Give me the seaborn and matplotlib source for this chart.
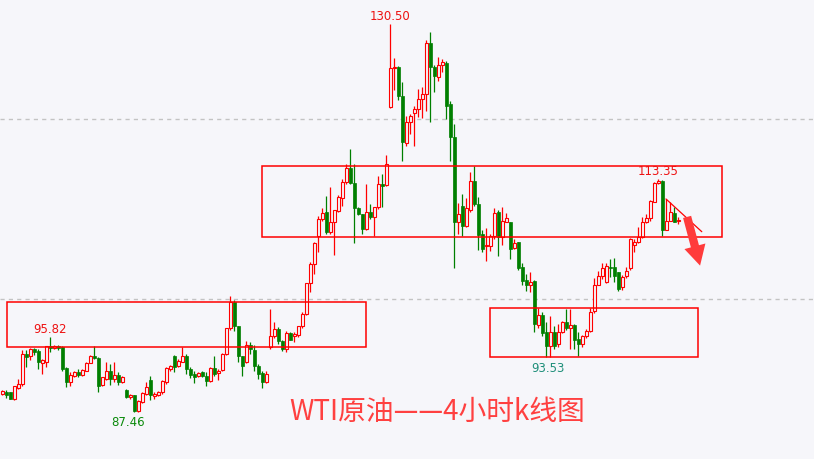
import matplotlib
matplotlib.use("Agg")
import matplotlib.pyplot as plt
import seaborn as sns
import numpy as np

# 4h candles (Chinese colours: red = up, green = down)
opens = [89.5, 89.7, 89.65, 88.9, 90.1, 90.55, 93.9, 93.65, 94.45, 94.25,
         92.9, 93.05, 94.75, 94.55, 94.8, 94.65, 92.3, 90.75, 91.5, 91.95,
         91.6, 92.05, 92.9, 93.65, 93.5, 90.45, 91.1, 92.05, 91.1, 91.55,
         90.8, 89.85, 89.1, 89.3, 87.6, 88.6, 89.46, 91.0, 89.27, 89.35,
         89.65, 90.82, 92.23, 93.7, 92.53, 93.05, 93.7, 92.23, 91.68, 91.42,
         91.9, 91.49, 90.93, 92.3, 91.79, 92.15, 93.9, 96.74, 99.7, 96.97,
         93.7, 92.97, 94.9, 94.34, 92.53, 91.79, 90.82, 94.63, 95.86, 96.67,
         95.3, 94.4, 96.22, 95.86, 96.0, 96.97, 98.33, 101.74, 103.88, 106.95,
         108.87, 109.68, 107.4, 108.5, 109.79, 111.17, 112.94, 114.53, 112.83, 110.06,
         109.42, 107.76, 109.61, 109.06, 110.17, 112.75, 112.64, 121.26, 125.59, 125.7,
         122.55, 117.3, 119.66, 120.63, 121.07, 122.18, 122.74, 128.39, 125.7, 124.59,
         125.95, 126.17, 121.63, 117.93, 108.57, 110.28, 108.06, 109.9, 113.05, 110.53,
         107.21, 105.84, 105.91, 106.95, 109.61, 106.84, 108.57, 108.57, 105.62, 106.28,
         103.51, 102.14, 101.55, 102.03, 97.11, 98.22, 96.3, 94.82, 96.3, 95.0,
         96.37, 97.4, 96.74, 97.11, 95.56, 95.0, 95.86, 96.48, 98.7, 101.55,
         102.51, 101.92, 103.56, 103.56, 102.96, 101.29, 102.51, 103.4, 105.99, 106.36,
         106.84, 108.5, 108.94, 110.79, 112.86, 113.11, 107.68, 108.68, 109.54, 108.65]
closes = [89.8, 89.4, 88.9, 90.3, 90.55, 93.9, 93.6, 94.45, 94.15, 93.0,
          93.2, 94.75, 94.55, 94.75, 94.6, 92.25, 90.75, 91.55, 91.85, 91.55,
          92.1, 92.9, 93.7, 93.5, 90.3, 91.3, 92.05, 91.1, 91.55, 90.8,
          91.35, 89.1, 89.35, 87.6, 88.7, 89.57, 90.2, 89.35, 89.46, 89.65,
          90.86, 92.34, 92.53, 92.5, 93.15, 93.7, 92.23, 91.56, 91.3, 91.79,
          91.42, 90.93, 92.34, 91.68, 92.05, 93.9, 96.74, 99.63, 96.97, 93.7,
          92.6, 94.9, 94.45, 92.53, 91.68, 90.82, 91.68, 95.86, 96.67, 95.3,
          94.4, 96.22, 95.48, 96.1, 96.97, 98.33, 101.74, 103.88, 106.17, 108.87,
          109.54, 107.4, 108.5, 109.87, 111.28, 112.94, 114.53, 112.83, 110.06, 109.42,
          107.76, 109.61, 109.06, 110.17, 112.75, 112.56, 114.97, 125.59, 125.7, 122.55,
          117.38, 119.66, 120.26, 121.07, 122.18, 122.74, 128.39, 125.7, 124.7, 125.95,
          126.25, 121.44, 117.93, 108.57, 109.42, 108.06, 110.06, 113.05, 110.53, 107.1,
          105.54, 105.99, 107.02, 109.54, 106.84, 108.68, 108.94, 105.54, 106.21, 103.4,
          102.03, 101.55, 101.85, 97.22, 98.22, 96.22, 94.82, 96.3, 94.82, 96.37,
          97.4, 96.74, 97.11, 95.48, 95.0, 95.86, 96.48, 98.59, 101.55, 102.59,
          103.4, 103.7, 103.45, 102.51, 101.1, 102.4, 103.14, 106.65, 106.36, 106.84,
          108.5, 108.94, 110.9, 112.83, 113.11, 107.68, 108.68, 109.61, 108.57, 108.76]
highs = [89.95, 89.85, 89.7, 90.4, 91.1, 94.3, 94.3, 94.6, 94.55, 94.4,
         93.3, 94.8, 95.82, 94.85, 94.85, 94.8, 92.4, 91.9, 92.0, 92.2,
         92.2, 93.0, 93.75, 94.8, 93.6, 91.4, 93.05, 92.8, 93.05, 91.85,
         91.45, 90.0, 89.5, 89.4, 88.8, 89.65, 90.76, 91.42, 89.65, 89.8,
         91.0, 92.5, 92.7, 93.8, 93.3, 94.63, 93.85, 92.4, 92.0, 91.9,
         92.0, 91.9, 92.5, 93.7, 92.2, 94.0, 96.8, 100.36, 99.85, 97.0,
         93.7, 95.3, 95.2, 94.9, 92.8, 92.0, 92.0, 98.89, 97.4, 96.9,
         95.4, 96.5, 96.3, 96.35, 97.05, 98.5, 101.8, 104.1, 106.3, 109.24,
         110.1, 111.45, 112.39, 109.9, 111.5, 113.3, 114.97, 116.63, 114.97, 110.2,
         109.42, 112.75, 110.53, 110.2, 113.6, 113.86, 115.97, 130.5, 126.7, 125.8,
         124.03, 120.33, 120.5, 121.4, 123.29, 123.5, 128.76, 129.58, 126.0, 126.81,
         126.6, 126.4, 122.0, 119.4, 110.64, 111.64, 111.2, 114.12, 114.72, 111.3,
         107.7, 107.84, 107.2, 110.1, 109.9, 110.17, 109.5, 108.57, 106.7, 106.28,
         104.0, 102.8, 103.0, 102.1, 99.0, 98.5, 97.4, 98.08, 97.0, 97.2,
         97.6, 98.89, 98.89, 97.2, 96.3, 96.0, 96.7, 99.0, 102.3, 103.1,
         104.0, 104.0, 104.43, 104.5, 103.0, 102.7, 103.6, 106.8, 106.7, 108.0,
         109.1, 109.4, 111.0, 113.0, 113.35, 113.2, 111.09, 110.7, 110.2, 109.1]
lows = [89.35, 89.0, 88.85, 88.8, 90.0, 90.4, 92.4, 93.2, 93.8, 92.2,
        91.7, 92.4, 94.15, 94.45, 94.3, 92.0, 90.25, 90.4, 91.3, 91.3,
        91.5, 92.0, 92.85, 93.3, 89.65, 90.3, 91.0, 90.5, 90.8, 90.5,
        90.7, 89.0, 88.9, 87.46, 87.5, 88.5, 89.4, 88.8, 88.9, 89.2,
        89.5, 90.6, 92.05, 91.86, 92.4, 93.0, 91.68, 91.2, 90.7, 91.3,
        91.3, 90.3, 90.8, 91.5, 91.0, 92.0, 93.8, 96.6, 96.48, 93.05,
        91.5, 92.9, 93.9, 92.0, 91.1, 90.1, 90.7, 94.5, 95.7, 95.0,
        94.2, 94.1, 95.4, 95.2, 95.8, 96.8, 98.2, 100.8, 102.77, 105.18,
        108.7, 107.2, 107.2, 104.88, 109.6, 110.3, 112.8, 112.7, 106.2, 109.3,
        107.2, 107.6, 108.9, 107.02, 110.0, 110.2, 112.5, 121.2, 123.2, 122.1,
        115.34, 116.93, 118.3, 116.93, 120.15, 120.1, 120.88, 119.6, 123.0, 124.2,
        125.2, 119.96, 115.34, 103.4, 107.21, 106.95, 108.0, 109.7, 110.3, 105.47,
        105.2, 104.24, 105.3, 106.7, 104.73, 106.0, 108.5, 104.43, 105.5, 103.2,
        101.5, 100.9, 100.74, 96.37, 96.8, 95.9, 93.6, 93.53, 94.5, 94.7,
        96.2, 96.6, 94.45, 94.5, 93.7, 94.7, 95.7, 96.3, 98.4, 101.5,
        102.2, 101.8, 102.4, 101.9, 100.9, 101.0, 102.3, 103.2, 105.2, 106.2,
        106.8, 108.45, 108.6, 110.7, 112.8, 106.95, 107.6, 108.6, 108.5, 108.3]

# price levels of the dashed guides
guide_levels = [120, 100]
# boxes: (first candle, last candle, low price, high price)
boxes = [(1.2, 90.9, 94.65, 99.65),
         (64.9, 179.9, 106.85, 114.75),
         (121.9, 173.9, 93.53, 98.98)]
# price labels: (candle, price shown, colour)
marks = [(97, 130.50, "up"), (12, 95.82, "up"), (31.5, 87.46, "down"),
         (136.5, 93.53, "teal"), (164, 113.35, "up")]

RED = "#ff0000"
GREEN = "#007f00"
BG = "#f6f6fa"

sns.set_theme(style="white", rc={"figure.facecolor": BG, "axes.facecolor": BG})
plt.rcParams["font.family"] = ["DejaVu Sans"]

fig = plt.figure(figsize=(8.14, 4.6), dpi=100)
ax = fig.add_axes([0, 0, 1, 1])

o = np.array(opens)
c = np.array(closes)
h = np.array(highs)
l = np.array(lows)
idx = np.arange(len(o))
up = c >= o

# wicks
ax.vlines(idx[up], l[up], h[up], color=RED, lw=0.9, zorder=2)
ax.vlines(idx[~up], l[~up], h[~up], color=GREEN, lw=0.9, zorder=2)

# bodies (up = hollow red, down = filled green)
body = np.maximum(np.abs(c - o), 0.08)
ax.bar(idx[up], body[up], bottom=o[up], width=0.68, facecolor=BG,
       edgecolor=RED, linewidth=0.8, zorder=3)
ax.bar(idx[~up], body[~up], bottom=c[~up], width=0.72, facecolor=GREEN,
       edgecolor=GREEN, linewidth=0.5, zorder=3)

for lev in guide_levels:
    ax.axhline(lev, color="#c3c3c3", lw=1, ls=(0, (3, 3)), zorder=1)

for x0, x1, y0, y1 in boxes:
    ax.add_patch(plt.Rectangle((x0, y0), x1 - x0, y1 - y0, fill=False,
                               edgecolor=RED, lw=1.1, zorder=4))

colors = {"up": "#ee1111", "down": "#0a8a0a", "teal": "#1f8f7a"}
for xi, val, kind in marks:
    dy = 0.9 if kind == "up" else -1.1
    ax.text(xi, val + dy, f"{val:.2f}", color=colors[kind], fontsize=8.5,
            ha="center", va="center", zorder=5)

# trend line + arrow
ax.plot([165.9, 174.85], [111.09, 107.46], color=RED, lw=0.9, zorder=5)
ax.annotate("", xy=(174.6, 103.4), xytext=(171.0, 109.4),
            arrowprops=dict(arrowstyle="simple,head_width=1.3,head_length=1.2,tail_width=0.5",
                            color="#ff3b3b", lw=0), zorder=6)

ax.text(108.7, 87.57, "WTI原油——4小时k线图", color="#ff4040", fontsize=20,
        ha="center", va="center", family=["Noto Sans CJK SC", "DejaVu Sans"])

ax.set_xlim(-0.575, 202.9)
ax.set_ylim(82.25, 133.27)
ax.set_axis_off()

fig.savefig("out.png", dpi=100, facecolor=BG)
